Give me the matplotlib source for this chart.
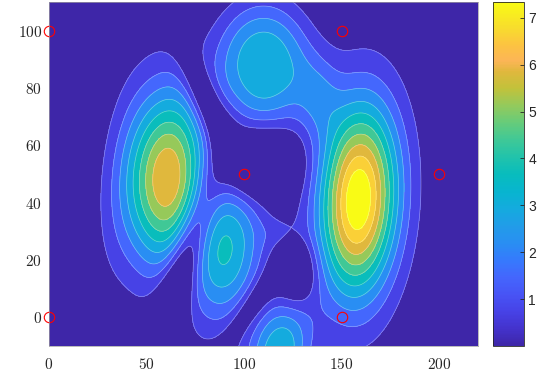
import numpy as np
import matplotlib.pyplot as plt
from matplotlib.colors import LinearSegmentedColormap, Normalize
from matplotlib.cm import ScalarMappable

plt.rcParams['mathtext.fontset'] = 'cm'

# parula-like colormap (MATLAB default)
parula_pos = [0.0, 0.05, 0.1, 0.15, 0.2, 0.25, 0.3, 0.35, 0.4, 0.45, 0.5,
              0.55, 0.6, 0.65, 0.7, 0.75, 0.8, 0.83, 0.88, 0.93, 1.0]
parula_rgb = [(0.2422, 0.1504, 0.6603), (0.2650, 0.1990, 0.8020), (0.2790, 0.2620, 0.9080),
              (0.2810, 0.3300, 0.9620), (0.2650, 0.4030, 0.9935), (0.2100, 0.4800, 0.9900),
              (0.1600, 0.5600, 0.9500), (0.1300, 0.6150, 0.9100), (0.0800, 0.6700, 0.8700),
              (0.0300, 0.7100, 0.8100), (0.0300, 0.7400, 0.7400), (0.1300, 0.7650, 0.6700),
              (0.2500, 0.7850, 0.5900), (0.4000, 0.8000, 0.4800), (0.5800, 0.7900, 0.3600),
              (0.7600, 0.7600, 0.2300), (0.8800, 0.7200, 0.2400), (0.9900, 0.7100, 0.3400),
              (0.9900, 0.7700, 0.2500), (0.9700, 0.8700, 0.1700), (0.9769, 0.9839, 0.0805)]
parula = LinearSegmentedColormap.from_list('parula', list(zip(parula_pos, parula_rgb)), N=256)

# bumps: centre, height (negative = valley), spread,
# tilt (deg, top leaning right) and shape power (1 = gaussian, >1 flatter top)
#           L     E    T     N    R      R2   S     K     B     H1    H2    H3    H4    H5
bump_x = [60.5, 38, 110, 138, 158.5, 180, 91, 120, 118, 108, 70, 127, 81, 105]
bump_y = [49, 48, 88, 77, 41, 48, 23, 29, -12, 53, 20, 16, 74, 5]
bump_amp = [5.9, 0.65, 3.25, 1.3, 7.3, 0.2, 3.3, 0.5, 3.3, -2.2, -2.5, -1.6, -1.8, -1.2]
bump_sx = [14, 9, 18.5, 8, 14, 12, 13, 8, 10, 13, 6, 7, 5, 4]
bump_sy = [21.5, 25, 16.5, 10, 24, 25, 18, 4, 13, 8, 26, 7.5, 14, 14]
bump_tilt = [8, 10, 0, 0, 5, 0, 16, 0, 35, 0, 25, 0, -34, 47]
bump_pow = [1, 1, 1.3, 1, 1, 1, 1, 1, 1, 1, 1, 1, 1, 1]

# red circles
pts_x = [0, 150, 100, 200, 0, 150]
pts_y = [100, 100, 50, 50, 0, 0]

x_ticks = [0, 50, 100, 150, 200]
y_ticks = [0, 20, 40, 60, 80, 100]
cbar_ticks = [1, 2, 3, 4, 5, 6, 7]

xg = np.linspace(0, 220, 441)
yg = np.linspace(-10, 110, 241)
X, Y = np.meshgrid(xg, yg)
Z = np.zeros_like(X)
for cx, cy, a, sx, sy, t, p in zip(bump_x, bump_y, bump_amp, bump_sx, bump_sy,
                                   bump_tilt, bump_pow):
    th = np.deg2rad(t)
    dx, dy = X - cx, Y - cy
    u = dx * np.cos(th) - dy * np.sin(th)
    v = dx * np.sin(th) + dy * np.cos(th)
    q = (u / sx)**2 + (v / sy)**2
    Z += a * np.exp(-0.5 * q**p)
Z = np.clip(Z, 0, None)
print(Z.min(), Z.max())

levels = np.linspace(Z.min(), Z.max(), 12)
band_colors = [parula(k / 10) for k in range(11)]

fig = plt.figure(figsize=(5.47, 3.79), dpi=100)
ax = fig.add_axes([49 / 547, 33 / 379, 429 / 547, 344 / 379])
ax.contourf(X, Y, Z, levels=levels, colors=band_colors)
ax.contour(X, Y, Z, levels=levels[1:-1], colors='white', linewidths=0.5, alpha=0.4)
ax.plot(pts_x, pts_y, 'o', mfc='none', mec='red', ms=7.5, mew=0.8, clip_on=False)

ax.set_xlim(0, 220)
ax.set_ylim(-10, 110)
ax.set_xticks(x_ticks)
ax.set_xticklabels([f'${v}$' for v in x_ticks])
ax.set_yticks(y_ticks)
ax.set_yticklabels([f'${v}$' for v in y_ticks])
ax.tick_params(length=0, labelsize=11, pad=5, colors='#262626')
ax.tick_params(axis='x', pad=8)
for s in ax.spines.values():
    s.set_color('#a0a0a0')
    s.set_linewidth(0.5)

cax = fig.add_axes([493 / 547, 33 / 379, 31 / 547, 344 / 379])
sm = ScalarMappable(norm=Normalize(Z.min(), Z.max()), cmap=parula)
cb = fig.colorbar(sm, cax=cax, ticks=cbar_ticks)
cb.outline.set_edgecolor('#262626')
cb.outline.set_linewidth(0.6)
cax.tick_params(direction='in', length=3, width=0.6, labelsize=10, colors='#262626', pad=3)
for lab in cax.get_yticklabels():
    lab.set_family('Liberation Sans')

fig.savefig('out.png', dpi=100)
